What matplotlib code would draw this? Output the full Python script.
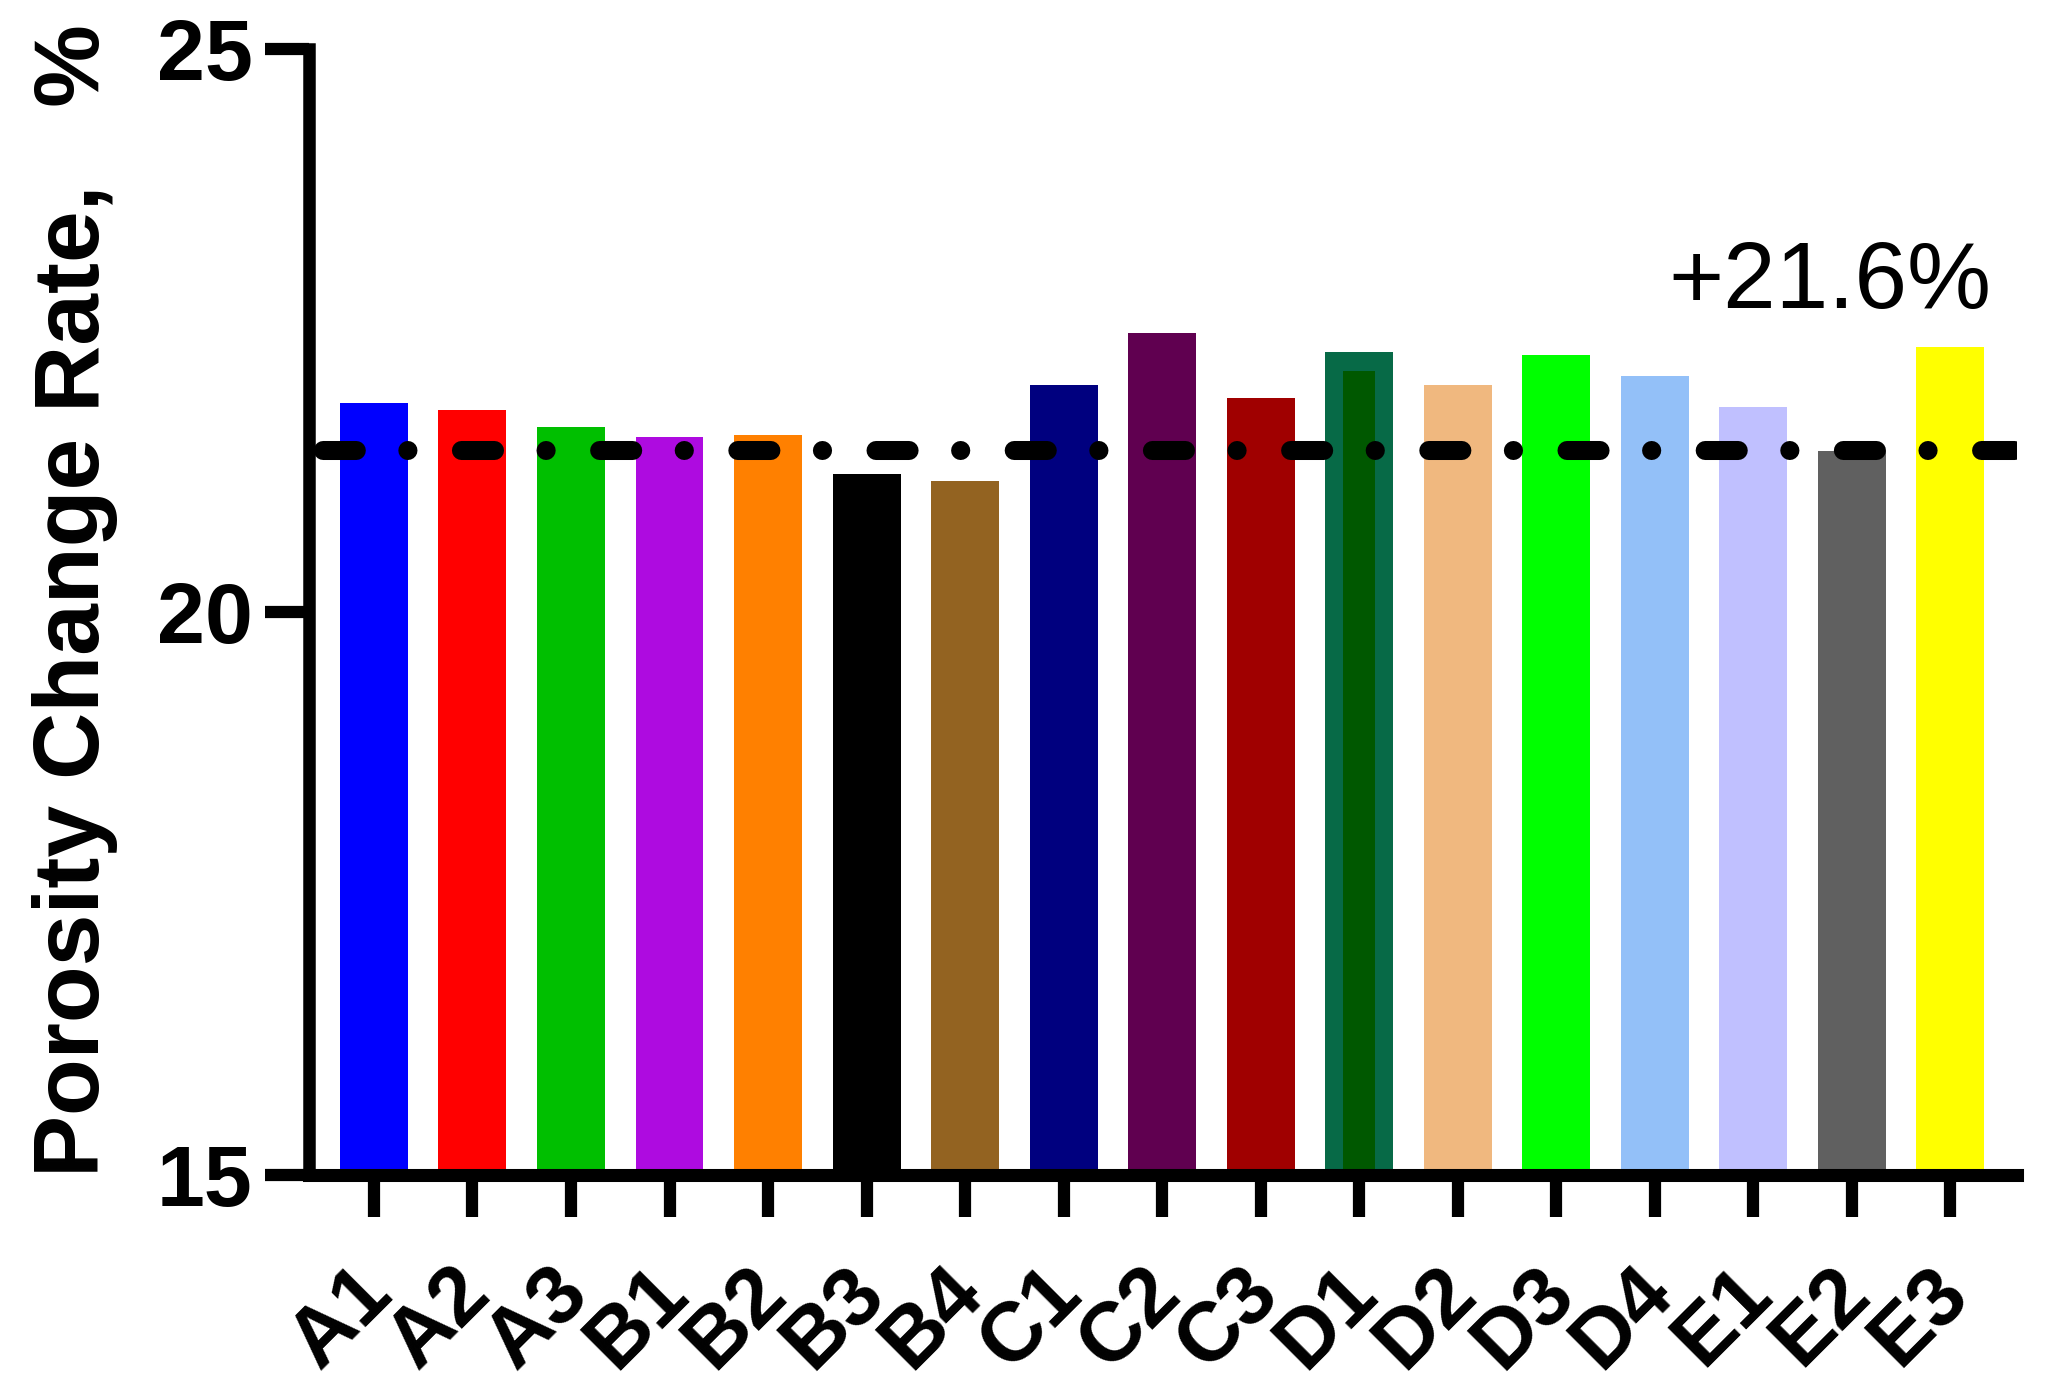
import matplotlib
matplotlib.use("Agg")
import matplotlib.pyplot as plt
import matplotlib.transforms as mtransforms

plt.rcParams['font.family'] = ['Liberation Sans', 'DejaVu Sans']
plt.rcParams['lines.scale_dashes'] = False

# data
samples = ['A1', 'A2', 'A3', 'B1', 'B2', 'B3', 'B4', 'C1', 'C2', 'C3',
           'D1', 'D2', 'D3', 'D4', 'E1', 'E2', 'E3']
porosity_change = [21.86, 21.79, 21.64, 21.55, 21.57, 21.23, 21.16, 22.02, 22.48,
                   21.90, 22.31, 22.02, 22.28, 22.10, 21.82, 21.43, 22.35]
bar_colors = ['#0000FF', '#FF0000', '#00BF00', '#AE0BE0', '#FF8000', '#000000',
              '#936321', '#00007F', '#600050', '#A00000', '#076A47', '#F0B87F',
              '#00FF00', '#93C0F8', '#C0C0FF', '#606060', '#FFFF00']
d1_inner_value = 22.14
d1_inner_color = '#005800'
mean_line = 21.44
label_text = '+21.6%'
y_ticks = [15, 20, 25]

fig = plt.figure(figsize=(20.57, 13.93), dpi=100)
ax = fig.add_axes([0.1502, 0.1565, 0.8304, 0.8083])

x = list(range(len(samples)))
ax.bar(x, [v - 15 for v in porosity_change], bottom=15, width=0.69,
       color=bar_colors, zorder=2)
# D1 has a darker inner fill
i_d1 = samples.index('D1')
ax.bar(i_d1, d1_inner_value - 15, bottom=15, width=0.325,
       color=d1_inner_color, zorder=2.1)

# dash-dot reference line
ax.axhline(mean_line, color='black', lw=13.7, dash_capstyle='round',
           linestyle=(89.6, (23.8, 37.1, 0.1, 38.5)), zorder=4)

ax.text(16.42, 22.70, label_text, ha='right', va='baseline', fontsize=68)

ax.set_xlim(-0.66, 16.68)
ax.set_ylim(15, 25)
ax.set_yticks(y_ticks)
ax.set_xticks(x)
ax.set_xticklabels(samples, rotation=45, ha='right', fontsize=60, fontweight='bold')
for lab in ax.get_yticklabels():
    lab.set_fontsize(62)
    lab.set_fontweight('bold')

ax.tick_params(axis='y', length=31.7, width=8.8, pad=9)
ax.tick_params(axis='x', length=30, width=8.8, pad=26)
dx = mtransforms.ScaledTranslation(0.33, 0, fig.dpi_scale_trans)
for lab in ax.get_xticklabels():
    lab.set_transform(lab.get_transform() + dx)

for side in ['top', 'right']:
    ax.spines[side].set_visible(False)
ax.spines['left'].set_linewidth(9)
ax.spines['bottom'].set_linewidth(9.4)
for sp in ax.spines.values():
    sp.set_zorder(3)

ax.set_ylabel('Porosity Change Rate,   %', fontsize=67, fontweight='bold')
ax.yaxis.set_label_coords(-0.112, 0.51)

fig.savefig('out.png', dpi=100)
